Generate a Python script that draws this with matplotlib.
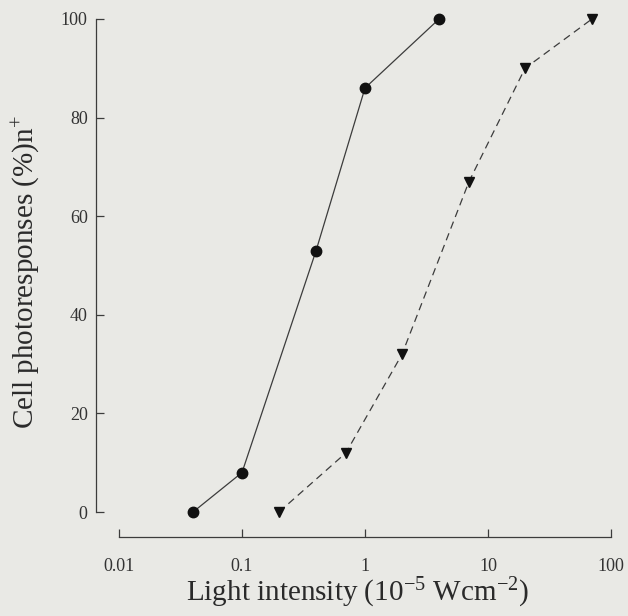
import matplotlib
matplotlib.use("Agg")
import matplotlib.pyplot as plt

# Daten
intensitaet_kreis = [0.04, 0.1, 0.4, 1.0, 4.0]
antwort_kreis = [0, 8, 53, 86, 100]

intensitaet_dreieck = [0.2, 0.7, 2.0, 7.0, 20.0, 70.0]
antwort_dreieck = [0, 12, 32, 67, 90, 100]

x_ticks = [0.01, 0.1, 1, 10, 100]
x_labels = ["0.01", "0.1", "1", "10", "100"]
y_ticks = [0, 20, 40, 60, 80, 100]

plt.rcParams["font.family"] = ["Liberation Serif", "DejaVu Serif"]
plt.rcParams["mathtext.fontset"] = "custom"
plt.rcParams["mathtext.rm"] = "Liberation Serif"
plt.rcParams["mathtext.it"] = "Liberation Serif:italic"

hintergrund = "#e9e9e5"
linie = "#3c3c3c"

fig = plt.figure(figsize=(6.28, 6.16), dpi=100, facecolor=hintergrund)
ax = fig.add_axes([96/628, 1-537/616, (611-96)/628, (537-19)/616])
ax.set_facecolor(hintergrund)

ax.plot(intensitaet_kreis, antwort_kreis, color=linie, lw=0.9, ls="-",
        marker="o", ms=7.5, mfc="#111111", mec="#111111", clip_on=False, zorder=3)
ax.plot(intensitaet_dreieck, antwort_dreieck, color=linie, lw=0.9, ls=(0, (6, 4)),
        marker="v", ms=6.5, mfc="#111111", mec="#111111", clip_on=False, zorder=3)

ax.set_xscale("log")
ax.set_xlim(10**-2.187, 100)
ax.set_ylim(-5.07, 100)

ax.spines["top"].set_visible(False)
ax.spines["right"].set_visible(False)
ax.spines["left"].set_bounds(0, 100)
ax.spines["bottom"].set_bounds(0.01, 100)
for s in ["left", "bottom"]:
    ax.spines[s].set_color(linie)
    ax.spines[s].set_linewidth(0.9)

ax.set_xticks(x_ticks)
ax.set_xticklabels(x_labels)
ax.xaxis.set_minor_locator(matplotlib.ticker.NullLocator())
ax.set_yticks(y_ticks)
ax.tick_params(axis="both", direction="in", length=6, width=0.9, color=linie,
               labelsize=13, labelcolor="#333333")
ax.tick_params(axis="x", pad=15)
ax.tick_params(axis="y", pad=6)

ax.set_xlabel("Light intensity (10$^{-5}$ Wcm$^{-2}$)", fontsize=21, color="#2a2a2a")
ax.xaxis.set_label_coords(0.507, -0.075)
ax.set_ylabel("Cell photoresponses (%)n$^{+}$", fontsize=21, color="#2a2a2a")
ax.yaxis.set_label_coords(-0.104, 0.512)

fig.savefig("out.png", dpi=100, facecolor=hintergrund)
